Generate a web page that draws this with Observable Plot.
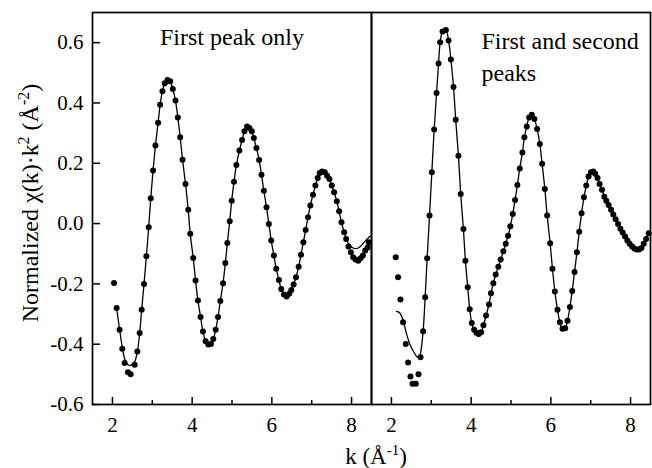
<!DOCTYPE html>
<html><head><meta charset="utf-8">
<script src="https://cdn.jsdelivr.net/npm/d3@7"></script>
<script src="https://cdn.jsdelivr.net/npm/@observablehq/plot@0.6"></script>
<style>
body{margin:0;background:#fff}
#chart svg{display:block}
</style>
</head><body><div id="chart"></div>
<script>
const panels = ["First peak only", "First and second peaks"];

const kLeft = [2.04,2.105,2.18,2.247,2.306,2.39,2.457,2.558,2.625,2.684,2.734,2.793,2.852,2.91,2.961,3.02,3.079,3.146,3.196,3.255,3.314,3.381,3.449,3.515,3.582,3.641,3.70,3.759,3.834,3.901,3.952,4.027,4.086,4.145,4.212,4.271,4.338,4.405,4.472,4.531,4.59,4.649,4.707,4.775,4.833,4.884,4.943,4.993,5.05,5.11,5.186,5.253,5.312,5.379,5.438,5.497,5.547,5.614,5.681,5.74,5.799,5.866,5.925,5.984,6.051,6.11,6.177,6.236,6.303,6.37,6.437,6.487,6.546,6.605,6.672,6.731,6.79,6.848,6.907,6.966,7.033,7.092,7.151,7.201,7.26,7.327,7.386,7.445,7.503,7.562,7.629,7.688,7.747,7.814,7.864,7.923,7.982,8.041,8.1,8.167,8.226,8.284,8.343,8.402,8.43];
const chiLeft = [-0.197,-0.280,-0.352,-0.415,-0.462,-0.493,-0.500,-0.468,-0.424,-0.363,-0.286,-0.200,-0.108,-0.012,0.084,0.176,0.259,0.334,0.394,0.439,0.465,0.476,0.472,0.446,0.408,0.352,0.286,0.212,0.131,0.046,-0.034,-0.114,-0.189,-0.255,-0.310,-0.358,-0.390,-0.401,-0.399,-0.383,-0.352,-0.310,-0.257,-0.198,-0.131,-0.064,0.008,0.076,0.139,0.194,0.242,0.277,0.306,0.322,0.317,0.306,0.284,0.251,0.211,0.162,0.109,0.054,-0.001,-0.056,-0.106,-0.150,-0.187,-0.217,-0.235,-0.242,-0.233,-0.220,-0.202,-0.178,-0.143,-0.103,-0.062,-0.021,0.021,0.060,0.096,0.126,0.151,0.168,0.173,0.170,0.159,0.148,0.126,0.104,0.074,0.041,0.004,-0.029,-0.051,-0.076,-0.095,-0.112,-0.119,-0.123,-0.115,-0.106,-0.089,-0.079,-0.062];

const kLeftFit = [2.105,2.18,2.247,2.306,2.39,2.457,2.558,2.625,2.684,2.734,2.793,2.852,2.91,2.961,3.02,3.079,3.146,3.196,3.255,3.314,3.381,3.449,3.515,3.582,3.641,3.70,3.759,3.834,3.901,3.952,4.027,4.086,4.145,4.212,4.271,4.338,4.405,4.472,4.531,4.59,4.649,4.707,4.775,4.833,4.884,4.943,4.993,5.05,5.11,5.186,5.253,5.312,5.379,5.438,5.497,5.547,5.614,5.681,5.74,5.799,5.866,5.925,5.984,6.051,6.11,6.177,6.236,6.303,6.37,6.437,6.487,6.546,6.605,6.672,6.731,6.79,6.848,6.907,6.966,7.033,7.092,7.151,7.201,7.26,7.327,7.386,7.445,7.503,7.562,7.629,7.688,7.747,7.814,7.864,7.923,7.982,8.041,8.1,8.167,8.226,8.284,8.343,8.402,8.46];
const chiLeftFit = [-0.280,-0.352,-0.410,-0.448,-0.468,-0.470,-0.458,-0.424,-0.363,-0.286,-0.200,-0.108,-0.012,0.084,0.176,0.259,0.334,0.394,0.439,0.465,0.476,0.472,0.446,0.408,0.352,0.286,0.212,0.131,0.046,-0.034,-0.114,-0.189,-0.255,-0.310,-0.358,-0.390,-0.401,-0.399,-0.383,-0.352,-0.310,-0.257,-0.198,-0.131,-0.064,0.008,0.076,0.139,0.194,0.242,0.277,0.306,0.322,0.317,0.306,0.284,0.251,0.211,0.162,0.109,0.054,-0.001,-0.056,-0.106,-0.150,-0.187,-0.217,-0.235,-0.242,-0.233,-0.220,-0.202,-0.178,-0.143,-0.103,-0.062,-0.021,0.021,0.060,0.096,0.126,0.151,0.168,0.173,0.170,0.159,0.148,0.126,0.104,0.074,0.041,0.004,-0.029,-0.051,-0.066,-0.076,-0.081,-0.083,-0.081,-0.075,-0.067,-0.058,-0.050,-0.042];

const kRight = [2.108,2.166,2.226,2.292,2.36,2.418,2.478,2.528,2.611,2.679,2.73,2.795,2.846,2.896,2.956,3.014,3.072,3.132,3.182,3.223,3.283,3.366,3.434,3.492,3.558,3.613,3.681,3.738,3.806,3.856,3.914,3.964,4.015,4.075,4.135,4.19,4.25,4.308,4.375,4.448,4.498,4.556,4.616,4.682,4.742,4.808,4.868,4.926,4.984,5.044,5.102,5.16,5.22,5.286,5.336,5.396,5.454,5.522,5.587,5.655,5.723,5.781,5.849,5.907,5.982,6.04,6.101,6.166,6.226,6.292,6.36,6.418,6.478,6.536,6.594,6.654,6.712,6.77,6.83,6.888,6.946,7.006,7.064,7.114,7.172,7.222,7.283,7.341,7.391,7.449,7.51,7.567,7.625,7.686,7.744,7.801,7.862,7.92,7.977,8.038,8.096,8.153,8.214,8.272,8.33,8.39,8.455];
const chiRight = [-0.112,-0.178,-0.252,-0.327,-0.399,-0.461,-0.507,-0.531,-0.531,-0.500,-0.443,-0.357,-0.244,-0.115,0.027,0.170,0.312,0.433,0.531,0.601,0.637,0.642,0.607,0.544,0.453,0.344,0.225,0.098,-0.018,-0.123,-0.211,-0.284,-0.330,-0.352,-0.362,-0.366,-0.360,-0.337,-0.305,-0.268,-0.231,-0.198,-0.169,-0.143,-0.119,-0.092,-0.067,-0.040,-0.009,0.032,0.078,0.128,0.183,0.236,0.286,0.322,0.352,0.361,0.347,0.314,0.264,0.198,0.115,0.027,-0.065,-0.150,-0.225,-0.286,-0.327,-0.349,-0.347,-0.322,-0.277,-0.224,-0.161,-0.095,-0.027,0.034,0.087,0.126,0.156,0.170,0.173,0.165,0.151,0.131,0.112,0.089,0.076,0.062,0.046,0.030,0.014,-0.001,-0.017,-0.030,-0.043,-0.056,-0.067,-0.076,-0.083,-0.086,-0.086,-0.081,-0.067,-0.051,-0.032];

const kRightFit = [2.126,2.2,2.292,2.377,2.478,2.579,2.64,2.69,2.73,2.795,2.846,2.896,2.956,3.014,3.072,3.132,3.182,3.223,3.283,3.366,3.434,3.492,3.558,3.613,3.681,3.738,3.806,3.856,3.914,3.964,4.015,4.075,4.135,4.19,4.25,4.308,4.375,4.448,4.498,4.556,4.616,4.682,4.742,4.808,4.868,4.926,4.984,5.044,5.102,5.16,5.22,5.286,5.336,5.396,5.454,5.522,5.587,5.655,5.723,5.781,5.849,5.907,5.982,6.04,6.101,6.166,6.226,6.292,6.36,6.418,6.478,6.536,6.594,6.654,6.712,6.77,6.83,6.888,6.946,7.006,7.064,7.114,7.172,7.222,7.283,7.341,7.391,7.449,7.51,7.567,7.625,7.686,7.744,7.801,7.862,7.92,7.977,8.038,8.096,8.153,8.214,8.272,8.33,8.39,8.455];
const chiRightFit = [-0.291,-0.295,-0.320,-0.365,-0.405,-0.430,-0.442,-0.445,-0.430,-0.357,-0.244,-0.115,0.027,0.170,0.312,0.433,0.531,0.601,0.637,0.642,0.607,0.544,0.453,0.344,0.225,0.098,-0.018,-0.123,-0.211,-0.284,-0.330,-0.352,-0.362,-0.366,-0.360,-0.337,-0.305,-0.268,-0.231,-0.198,-0.169,-0.143,-0.119,-0.092,-0.067,-0.040,-0.009,0.032,0.078,0.128,0.183,0.236,0.286,0.322,0.352,0.361,0.347,0.314,0.264,0.198,0.115,0.027,-0.065,-0.150,-0.225,-0.286,-0.327,-0.349,-0.347,-0.322,-0.277,-0.224,-0.161,-0.095,-0.027,0.034,0.087,0.126,0.156,0.170,0.173,0.165,0.151,0.131,0.112,0.089,0.076,0.062,0.046,0.030,0.014,-0.001,-0.017,-0.030,-0.043,-0.056,-0.067,-0.076,-0.083,-0.086,-0.086,-0.081,-0.067,-0.051,-0.032];

const xMajorTicks = [2, 4, 6, 8];
const xMinorTicks = [3, 5, 7];
const yTicks = [-0.6, -0.4, -0.2, 0.0, 0.2, 0.4, 0.6];
const titleLeft = ["First peak only"];
const titleRight = ["First and second\npeaks"];

const dots = [
  ...kLeft.map((k, i) => ({panel: panels[0], k, chi: chiLeft[i]})),
  ...kRight.map((k, i) => ({panel: panels[1], k, chi: chiRight[i]}))
];
const fits = [
  ...kLeftFit.map((k, i) => ({panel: panels[0], k, chi: chiLeftFit[i]})),
  ...kRightFit.map((k, i) => ({panel: panels[1], k, chi: chiRightFit[i]}))
];

const font = "'Liberation Serif', 'Times New Roman', serif";

const chart = Plot.plot({
  width: 652,
  height: 468,
  marginLeft: 92,
  marginRight: 2,
  marginTop: 12,
  marginBottom: 64,
  style: {fontFamily: font, fontSize: "21px", color: "black", background: "white"},
  fx: {domain: panels, padding: 0, axis: null},
  x: {domain: [1.5, 8.5]},
  y: {domain: [-0.6, 0.7]},
  marks: [
    Plot.line(fits, {x: "k", y: "chi", fx: "panel", stroke: "black", strokeWidth: 1.3, curve: "catmull-rom"}),
    Plot.dot(dots, {x: "k", y: "chi", fx: "panel", r: 3, fill: "black", stroke: "none"}),
    Plot.frame({stroke: "black", strokeWidth: 1.7}),
    Plot.axisX({ticks: xMajorTicks, tickSize: -7, tickPadding: 20, tickFormat: d => String(d), label: null, fontSize: 21, strokeWidth: 1.5}),
    Plot.axisX({ticks: xMinorTicks, tickSize: -4, tickPadding: 20, tickFormat: () => "", label: null, strokeWidth: 1.5}),
    Plot.axisY({ticks: yTicks, tickSize: -8, tickPadding: 17, tickFormat: d => d.toFixed(1), label: null, fontSize: 21, strokeWidth: 1.5}),
    Plot.text(titleLeft, {fx: [panels[0]], text: d => d, frameAnchor: "top", lineAnchor: "top", dy: 15, fontSize: 24}),
    Plot.text(titleRight, {fx: [panels[1]], text: d => d, frameAnchor: "top-left", textAnchor: "start", lineAnchor: "top", dx: 110, dy: 14, fontSize: 24, lineHeight: 1.33})
  ]
});

document.getElementById("chart").appendChild(chart);

const svg = d3.select(chart);
// y-axis label
const yl = svg.append("text")
  .attr("transform", "translate(38,203) rotate(-90)")
  .attr("text-anchor", "middle")
  .attr("font-family", font)
  .attr("font-size", 24)
  .attr("fill", "black");
yl.append("tspan").text("Normalized \u03C7(k)\u00B7k");
yl.append("tspan").attr("dy", -9).attr("font-size", 16).text("2");
yl.append("tspan").attr("dy", 9).text(" (\u00C5");
yl.append("tspan").attr("dy", -9).attr("font-size", 16).text("-2");
yl.append("tspan").attr("dy", 9).text(")");
// x-axis label
const xl = svg.append("text")
  .attr("x", 376)
  .attr("y", 464)
  .attr("text-anchor", "middle")
  .attr("font-family", font)
  .attr("font-size", 23)
  .attr("fill", "black");
xl.append("tspan").text("k (\u00C5");
xl.append("tspan").attr("dy", -9).attr("font-size", 15).text("-1");
xl.append("tspan").attr("dy", 9).text(")");
</script>
</body></html>
